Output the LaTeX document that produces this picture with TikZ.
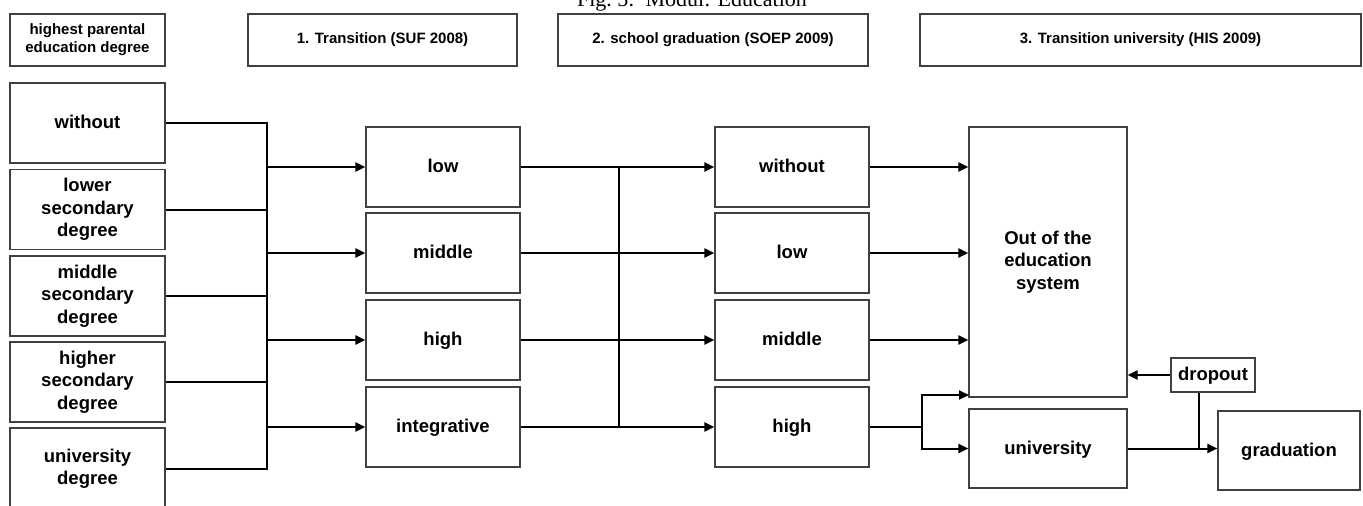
\documentclass[tikz,border=0pt]{standalone}
\usepackage{fontspec}
\setmainfont{Liberation Sans}
\newfontfamily\captionserif{Liberation Serif}
\usetikzlibrary{arrows.meta}
\tikzset{box/.style={rectangle, draw=black!75, line width=1.2pt, minimum width=154pt,
		minimum height=80pt, align=center, inner sep=2pt,
		font=\fontsize{18.5}{22.5}\selectfont\bfseries},
	single/.style={box, text height=13pt, text depth=2pt},
	head/.style={box, minimum height=52pt, font=\fontsize{15}{18}\selectfont\bfseries},
	wire/.style={line width=2pt},
	link/.style={wire, -{Triangle[length=10pt,width=9pt]}}}

\begin{document}
\begin{tikzpicture}[x=1pt,y=-1pt]
		\useasboundingbox (0,0) rectangle (1363,506);
		\node[font=\captionserif\fontsize{22}{22}\selectfont, anchor=base] (caption) at (692,6.5) {Fig.~5:\ \ Modul: Education};
		
		\node[head, minimum width=155pt] (hparent) at (87.5,40) {highest parental\\education degree};
		\node[head, minimum width=269pt] (htransition) at (382.5,40) {1. Transition (SUF 2008)};
		\node[head, minimum width=310pt] (hschool) at (713,40) {2. school graduation (SOEP 2009)};
		\node[head, minimum width=441pt] (huniversity) at (1140.5,40) {3. Transition university (HIS 2009)};
		
		\node[single, minimum width=155pt] (pwithout) at (87.5,123) {without};
		\node[box, minimum width=155pt] (plower) at (87.5,209.5) {lower\\secondary\\degree};
		\node[box, minimum width=155pt] (pmiddle) at (87.5,296) {middle\\secondary\\degree};
		\node[box, minimum width=155pt] (phigher) at (87.5,382) {higher\\secondary\\degree};
		\node[box, minimum width=155pt, minimum height=82pt] (puni) at (87.5,469) {university\\degree};
		
		\node[single] (tlow) at (443,167) {low};
		\node[single] (tmiddle) at (443,253) {middle};
		\node[single] (thigh) at (443,340) {high};
		\node[single] (tintegrative) at (443,427) {integrative};
		
		\node[single] (swithout) at (792,167) {without};
		\node[single] (slow) at (792,253) {low};
		\node[single] (smiddle) at (792,340) {middle};
		\node[single] (shigh) at (792,427) {high};
		
		\node[box, minimum width=158pt, minimum height=270pt] (out) at (1048,262) {Out of the\\education\\system};
		\node[single, minimum width=158pt, minimum height=79pt] (uni) at (1048,448.5) {university};
		\node[single, minimum width=84pt, minimum height=34pt] (dropout) at (1213,375) {dropout};
		\node[single, minimum width=142pt, minimum height=79pt] (grad) at (1289,450.5) {graduation};
		
		\coordinate (busa) at (267,0);
		\coordinate (busb) at (619,0);
		\coordinate (split) at (922,0);
		\coordinate (outlow) at (969,395);
		\coordinate (drophook) at (1199,0);
		
		% parents to first transition
		\draw[wire] (pwithout.east) -- (busa |- pwithout.east) -- (busa |- puni.east) -- (puni.east);
		\draw[wire] (plower.east) -- (busa |- plower.east);
		\draw[wire] (pmiddle.east) -- (busa |- pmiddle.east);
		\draw[wire] (phigher.east) -- (busa |- phigher.east);
		\draw[link] (busa |- tlow.west) -- (tlow.west);
		\draw[link] (busa |- tmiddle.west) -- (tmiddle.west);
		\draw[link] (busa |- thigh.west) -- (thigh.west);
		\draw[link] (busa |- tintegrative.west) -- (tintegrative.west);
		
		% first transition to school graduation
		\draw[link] (tlow.east) -- (swithout.west);
		\draw[link] (tmiddle.east) -- (slow.west);
		\draw[link] (thigh.east) -- (smiddle.west);
		\draw[link] (tintegrative.east) -- (shigh.west);
		\draw[wire] (busb |- tlow.east) -- (busb |- tintegrative.east);
		
		% school graduation to university
		\draw[link] (swithout.east) -- (out.west |- swithout.east);
		\draw[link] (slow.east) -- (out.west |- slow.east);
		\draw[link] (smiddle.east) -- (out.west |- smiddle.east);
		\draw[wire] (shigh.east) -- (split |- shigh.east);
		\draw[link] (split |- shigh.east) |- (outlow);
		\draw[link] (split |- shigh.east) |- (uni.west);
		
		\draw[link] (dropout.west) -- (out.east |- dropout.west);
		\draw[link] (uni.east) -- (grad.west |- uni.east);
		\draw[wire] (drophook |- dropout.south) -- (drophook |- uni.east);
\end{tikzpicture}
\end{document}
